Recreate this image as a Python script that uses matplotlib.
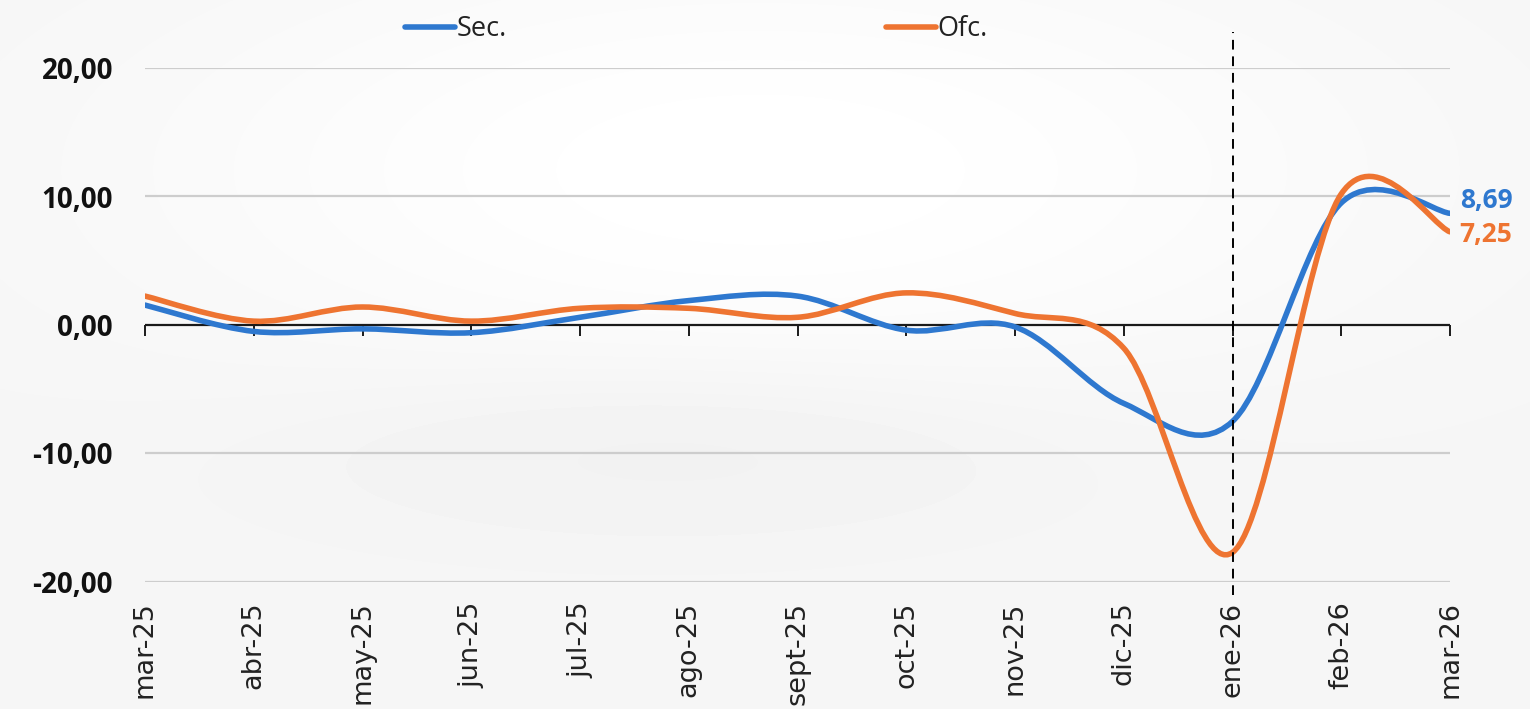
import numpy as np
import matplotlib
matplotlib.use("Agg")
import matplotlib.pyplot as plt
from matplotlib.path import Path
from matplotlib.patches import PathPatch
from matplotlib.lines import Line2D

plt.rcParams['font.family'] = ['Open Sans', 'DejaVu Sans']

# --- data ---
months = ['mar-25', 'abr-25', 'may-25', 'jun-25', 'jul-25', 'ago-25', 'sept-25',
          'oct-25', 'nov-25', 'dic-25', 'ene-26', 'feb-26', 'mar-26']
sec = [1.55, -0.5, -0.3, -0.6, 0.6, 1.9, 2.25, -0.4, -0.15, -6.1, -7.5, 9.5, 8.69]
ofc = [2.25, 0.3, 1.4, 0.3, 1.3, 1.3, 0.6, 2.5, 0.9, -1.8, -17.7, 10.2, 7.25]
y_ticks = [-20, -10, 0, 10, 20]
marker_month = 'ene-26'

BLUE = '#2e78cf'
ORANGE = '#ee7431'
W, H = 1530, 709


def smooth_path(x, y):
    # excel style "smoothed line": catmull-rom turned into cubic bezier segments
    pts = np.column_stack([x, y]).astype(float)
    padded = np.vstack([pts[:1], pts, pts[-1:]])
    verts, codes = [pts[0]], [Path.MOVETO]
    for i in range(len(pts) - 1):
        p0, p1, p2, p3 = padded[i], padded[i + 1], padded[i + 2], padded[i + 3]
        verts += [p1 + (p2 - p0) / 6, p2 - (p3 - p1) / 6, p2]
        codes += [Path.CURVE4] * 3
    return Path(verts, codes)


def comma(v):
    return f"{v:.2f}".replace('.', ',')


fig = plt.figure(figsize=(W / 100, H / 100), dpi=100)

# soft light-grey backdrop like the source slide
bg = fig.add_axes([0, 0, 1, 1], zorder=-5)
yy, xx = np.mgrid[0:H, 0:W]
light = np.exp(-(((xx - 760) / 620) ** 2 + ((yy - 170) / 230) ** 2))
dark = np.exp(-(((xx - 680) / 380) ** 2 + ((yy - 445) / 90) ** 2))
shade = 0.962 + 0.038 * light - 0.022 * dark
bg.imshow(np.clip(shade, 0, 1), cmap='gray', vmin=0, vmax=1, aspect='auto', interpolation='bilinear')
bg.axis('off')

ax = fig.add_axes([145 / W, 1 - 582 / H, 1305 / W, 514 / H])
ax.patch.set_alpha(0)
for s in ax.spines.values():
    s.set_visible(False)

x = np.arange(len(months))
ax.set_xlim(0, len(months) - 1)
ax.set_ylim(-20, 20)

for v in y_ticks:
    if v != 0:
        ax.axhline(v, color='#cdcdcd', lw=1.6, zorder=1)
ax.axhline(0, color='#1a1a1a', lw=1.6, zorder=2)

ax.set_yticks(y_ticks, [comma(v) for v in y_ticks])
ax.tick_params(axis='y', length=0, pad=23, labelsize=20, labelcolor='#111111')
for lbl in ax.get_yticklabels():
    lbl.set_fontweight('bold')

ax.set_xticks(x, months, rotation=90)
ax.tick_params(axis='x', length=0, pad=14, labelsize=19.5, labelcolor='#222222')
for lbl in ax.get_xticklabels():
    lbl.set_family('DejaVu Sans')

# tick marks sitting on the zero line
zax = ax.secondary_xaxis(0.5)
zax.set_xticks(x)
zax.xaxis.set_ticks_position('bottom')
zax.tick_params(axis='x', direction='out', length=8, width=1.4, color='#1a1a1a',
                labelbottom=False, labeltop=False)
for s in zax.spines.values():
    s.set_visible(False)

ax.add_patch(PathPatch(smooth_path(x, sec), fill=False, edgecolor=BLUE, lw=4,
                       capstyle='round', joinstyle='round', zorder=4))
ax.add_patch(PathPatch(smooth_path(x, ofc), fill=False, edgecolor=ORANGE, lw=4,
                       capstyle='round', joinstyle='round', zorder=5))

ax.axvline(months.index(marker_month), ymin=-0.025, ymax=1.07, color='black',
           lw=1.4, ls=(0, (5, 3.5)), clip_on=False, zorder=6)

ax.annotate(comma(sec[-1]), xy=(x[-1], sec[-1]), xytext=(7, 9), textcoords='offset points',
            ha='left', va='center', color=BLUE, fontsize=19, fontweight='bold',
            annotation_clip=False)
ax.annotate(comma(ofc[-1]), xy=(x[-1], ofc[-1]), xytext=(7, -2), textcoords='offset points',
            ha='left', va='center', color=ORANGE, fontsize=19, fontweight='bold',
            annotation_clip=False)

handles = [Line2D([], [], color=BLUE, lw=4, solid_capstyle='round'),
           Line2D([], [], color=ORANGE, lw=4, solid_capstyle='round')]
fig.legend(handles, ['Sec.', 'Ofc.'], ncol=2, loc='center left',
           bbox_to_anchor=(405 / W, 1 - 29 / H), frameon=False, fontsize=19.5,
           handlelength=1.85, handletextpad=0.05, columnspacing=14.0,
           borderpad=0, borderaxespad=0, labelcolor='#222222')

fig.savefig('out.png', dpi=100)
